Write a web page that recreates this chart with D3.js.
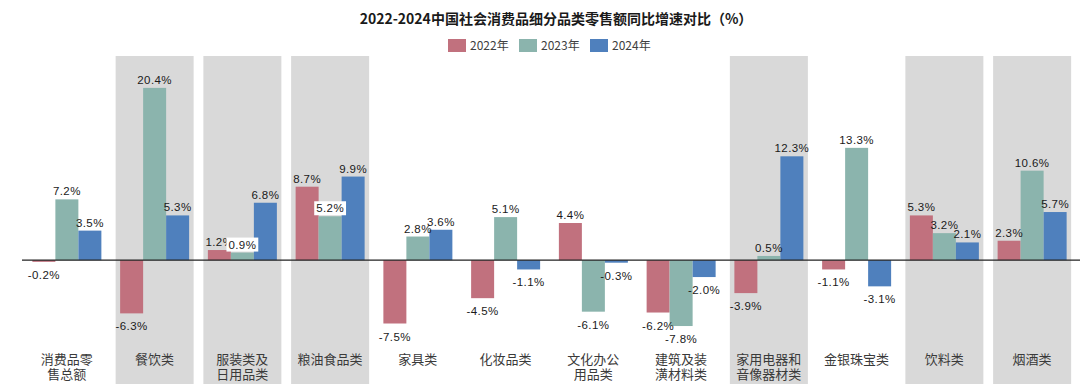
<!DOCTYPE html>
<html>
<head>
<meta charset="utf-8">
<script src="https://cdn.jsdelivr.net/npm/d3@7"></script>
<style>
  html, body { margin: 0; padding: 0; background: #fff; }
  svg { display: block; }
</style>
</head>
<body>
<svg id="chart" width="1080" height="390"></svg>
<script>
const categories = ["消费品零售总额","餐饮类","服装类及日用品类","粮油食品类","家具类","化妆品类","文化办公用品类","建筑及装潢材料类","家用电器和音像器材类","金银珠宝类","饮料类","烟酒类"];
const seriesNames = ["2022年","2023年","2024年"];
const values2022 = [-0.2, -6.3, 1.2, 8.7, -7.5, -4.5, 4.4, -6.2, -3.9, -1.1, 5.3, 2.3];
const values2023 = [7.2, 20.4, 0.9, 5.2, 2.8, 5.1, -6.1, -7.8, 0.5, 13.3, 3.2, 10.6];
const values2024 = [3.5, 5.3, 6.8, 9.9, 3.6, -1.1, -0.3, -2.0, 12.3, -3.1, 2.1, 5.7];
const highlighted = ["餐饮类","服装类及日用品类","粮油食品类","家用电器和音像器材类","饮料类","烟酒类"];
const boxedLabels = [["服装类及日用品类","2023年"],["粮油食品类","2023年"]];
const title = "2022-2024中国社会消费品细分品类零售额同比增速对比（%）";

const colors = {"2022年":"#c1717e","2023年":"#8bb4ad","2024年":"#4f80bd"};
const seriesValues = [values2022, values2023, values2024];

const svg = d3.select("#chart");

const x = d3.scaleBand().domain(categories).range([23, 1076]).padding(0);
const step = x.step();
const x1 = d3.scaleBand().domain(seriesNames).range([(step-69)/2, (step+69)/2]).padding(0);
const y = d3.scaleLinear().domain([-12, 24]).range([361.5, 57.5]);

// gray highlight bands
svg.append("g").selectAll("rect").data(highlighted).join("rect")
  .attr("x", d => x(d) + step/2 - 39)
  .attr("width", 78)
  .attr("y", 56)
  .attr("height", 328)
  .attr("fill", "#d9d9d9");

// bars
const flat = [];
categories.forEach((c, i) => seriesNames.forEach((s, j) => flat.push({c, s, v: seriesValues[j][i]})));

const gBars = svg.append("g");
gBars.selectAll("rect").data(flat).join("rect")
  .attr("x", d => x(d.c) + x1(d.s))
  .attr("width", x1.bandwidth())
  .attr("y", d => y(Math.max(0, d.v)))
  .attr("height", d => Math.abs(y(d.v) - y(0)))
  .attr("fill", d => colors[d.s]);

// zero line
svg.append("line")
  .attr("x1", 22).attr("x2", 1080)
  .attr("y1", y(0)).attr("y2", y(0))
  .attr("stroke", "#222").attr("stroke-width", 1.2);

// data labels
const gLab = svg.append("g")
  .attr("font-family", "'Liberation Sans', Arial, sans-serif")
  .attr("font-size", 11.5)
  .attr("letter-spacing", 0.4)
  .attr("fill", "#1a1a1a")
  .attr("text-anchor", "middle");

flat.forEach(d => {
  const cx = x(d.c) + x1(d.s) + x1.bandwidth()/2;
  const ty = d.v >= 0 ? y(d.v) - 4 : y(d.v) + 17;
  const boxed = boxedLabels.some(b => b[0] === d.c && b[1] === d.s);
  const t = gLab.append("text").attr("x", cx).attr("y", ty).text(d.v.toFixed(1) + "%");
  if (boxed) {
    const bb = t.node().getBBox();
    gLab.insert("rect", () => t.node())
      .attr("x", bb.x - 2).attr("y", bb.y - 1)
      .attr("width", bb.width + 4).attr("height", bb.height + 2)
      .attr("fill", "#fff");
  }
});

// category labels
const gCat = svg.append("g")
  .attr("font-family", "'Noto Sans CJK SC', sans-serif")
  .attr("font-size", 13)
  .attr("fill", "#3a3a3a")
  .attr("text-anchor", "middle");
categories.forEach(c => {
  const lines = c.length > 5 ? [c.slice(0, Math.ceil(c.length/2)), c.slice(Math.ceil(c.length/2))] : [c];
  const t = gCat.append("text").attr("x", x(c) + step/2).attr("y", 364);
  lines.forEach((ln, i) => t.append("tspan").attr("x", x(c) + step/2).attr("dy", i === 0 ? 0 : 15).text(ln));
});

// title
svg.append("text")
  .attr("x", 556).attr("y", 24)
  .attr("text-anchor", "middle")
  .attr("font-family", "'Noto Sans CJK SC', sans-serif")
  .attr("font-weight", "bold")
  .attr("font-size", 14)
  .attr("fill", "#1a1a1a")
  .text(title);

// legend
const legend = svg.append("g")
  .attr("font-family", "'Noto Sans CJK SC', 'Liberation Sans', sans-serif")
  .attr("font-size", 12)
  .attr("fill", "#404040");
seriesNames.forEach((s, i) => {
  const lx = 448 + i * 71;
  legend.append("rect").attr("x", lx).attr("y", 39).attr("width", 18).attr("height", 13).attr("fill", colors[s]);
  legend.append("text").attr("x", lx + 22).attr("y", 50).text(s);
});
</script>
</body>
</html>
